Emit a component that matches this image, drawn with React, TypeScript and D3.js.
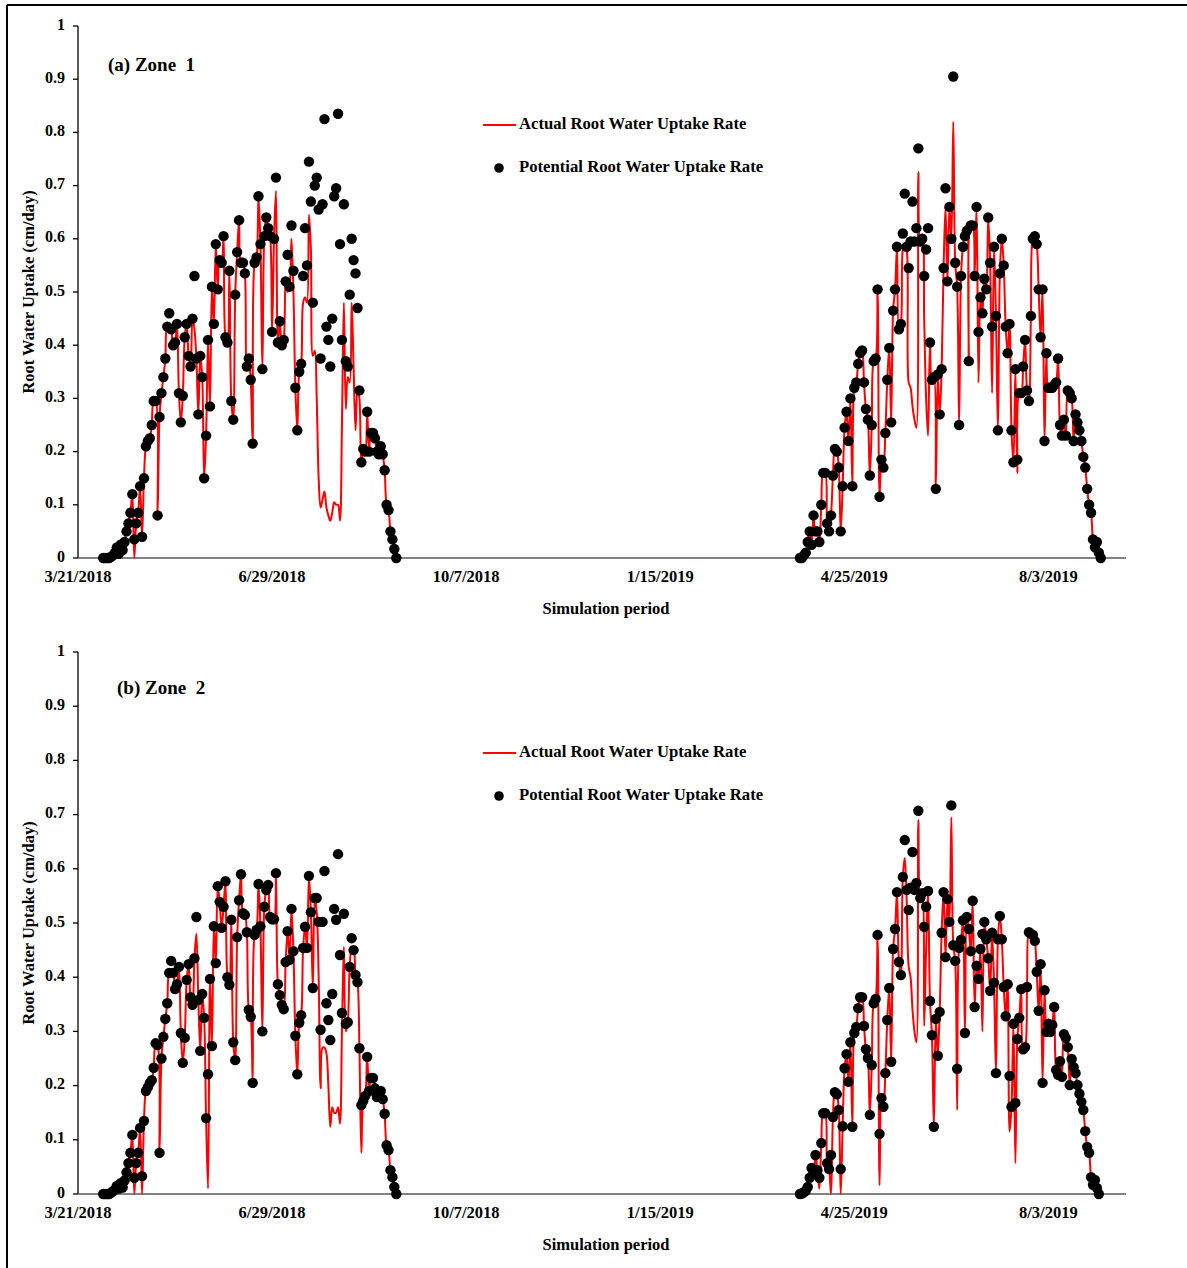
import React from "react";
import * as d3 from "d3";

// ---- axis definitions ----
const xDomain = ["2018-03-21", "2019-09-12"];
const xTickDates = ["2018-03-21", "2018-06-29", "2018-10-07", "2019-01-15", "2019-04-25", "2019-08-03"];
const yTicks = [0, 0.1, 0.2, 0.3, 0.4, 0.5, 0.6, 0.7, 0.8, 0.9, 1];
const seriesNames = ["Actual Root Water Uptake Rate", "Potential Root Water Uptake Rate"];
const panelTitles = ["(a) Zone  1", "(b) Zone  2"];
const xAxisTitle = "Simulation period";
const yAxisTitle = "Root Water Uptake (cm/day)";

// first simulated day of each growing season (daily values follow)
const seasonStart2018 = "2018-04-03";
const seasonStart2019 = "2019-03-28";

// ---- Zone 1, 2018 season (cm/day) ----
const zone1Potential2018 = [
  0, 0, 0, 0, 0.002, 0.005, 0.01, 0.02, 0.008, 0.025, 0.015, 0.03,
  0.05, 0.065, 0.085, 0.12, 0.035, 0.065, 0.085, 0.135, 0.04, 0.15,
  0.21, 0.22, 0.225, 0.25, 0.295, 0.295, 0.08, 0.265, 0.31, 0.34,
  0.375, 0.435, 0.46, 0.43, 0.4, 0.405, 0.44, 0.31, 0.255, 0.305,
  0.415, 0.44, 0.38, 0.36, 0.45, 0.53, 0.375, 0.27, 0.38, 0.34,
  0.15, 0.23, 0.41, 0.285, 0.51, 0.44, 0.59, 0.505, 0.56, 0.555,
  0.605, 0.415, 0.405, 0.54, 0.295, 0.26, 0.495, 0.575, 0.635, 0.555,
  0.555, 0.535, 0.36, 0.375, 0.335, 0.215, 0.555,
  0.565, 0.68, 0.59, 0.355, 0.605, 0.64, 0.62, 0.605, 0.425, 0.6, 0.715,
  0.405, 0.445, 0.4, 0.41, 0.52, 0.57, 0.51, 0.625, 0.54, 0.32,
  0.24, 0.35, 0.365, 0.53, 0.62, 0.55, 0.745, 0.67, 0.48, 0.7,
  0.715, 0.655, 0.375, 0.665, 0.825, 0.435, 0.41, 0.36, 0.45, 0.68,
  0.695, 0.835, 0.59, 0.41, 0.665, 0.37, 0.36, 0.495, 0.6, 0.56,
  0.535, 0.47, 0.315, 0.18, 0.205, 0.2, 0.275, 0.2, 0.235, 0.235, 0.225, 0.2,
  0.195, 0.21, 0.195, 0.165, 0.1, 0.09, 0.05, 0.035, 0.017, 0,
];
const zone1Actual2018 = [
  0, 0, 0, 0, 0.002, 0.005, 0.01, 0.02, 0.008, 0.025, 0.015, 0.03,
  0.05, 0.065, 0.085, 0.12, 0, 0.065, 0.085, 0.135, 0.04, 0.15,
  0.21, 0.22, 0.225, 0.25, 0.295, 0.295, 0.08, 0.265, 0.31, 0.34,
  0.375, 0.435, 0.435, 0.43, 0.4, 0.405, 0.44, 0.31, 0.255, 0.305,
  0.415, 0.44, 0.38, 0.36, 0.45, 0.43, 0.375, 0.27, 0.38, 0.34,
  0.15, 0.23, 0.41, 0.285, 0.51, 0.44, 0.59, 0.505, 0.56, 0.555,
  0.605, 0.415, 0.405, 0.54, 0.295, 0.26, 0.495, 0.575, 0.635, 0.555,
  0.555, 0.535, 0.36, 0.375, 0.335, 0.215, 0.555,
  0.565, 0.68, 0.59, 0.355, 0.605, 0.64, 0.62, 0.605, 0.425, 0.6, 0.69,
  0.405, 0.445, 0.4, 0.41, 0.52, 0.5, 0.51, 0.6, 0.5, 0.32,
  0.24, 0.35, 0.365, 0.48, 0.49, 0.48, 0.645, 0.58, 0.38, 0.39,
  0.3, 0.15, 0.095, 0.11, 0.125, 0.095, 0.08, 0.07, 0.085, 0.105,
  0.1, 0.1, 0.07, 0.25, 0.48, 0.28, 0.34, 0.33, 0.48, 0.36,
  0.24, 0.32, 0.3, 0.18, 0.205, 0.2, 0.275, 0.2, 0.235, 0.235, 0.225, 0.2,
  0.195, 0.21, 0.195, 0.165, 0.1, 0.09, 0.05, 0.035, 0.017, 0,
];

// ---- Zone 1, 2019 season (cm/day) ----
const zone1Potential2019 = [
  0, 0, 0.005, 0.01, 0.03, 0.05, 0.025, 0.08, 0.05, 0.05,
  0.03, 0.1, 0.16, 0.16, 0.065, 0.05, 0.08, 0.155, 0.205, 0.2,
  0.17, 0.05, 0.135, 0.245, 0.275, 0.22, 0.3, 0.135, 0.32, 0.33,
  0.365, 0.385, 0.39, 0.33, 0.28, 0.26, 0.155, 0.25, 0.37, 0.375,
  0.505, 0.115, 0.185, 0.17, 0.235, 0.335, 0.395, 0.255, 0.465, 0.505,
  0.585, 0.43, 0.44, 0.61, 0.685, 0.585, 0.545, 0.595, 0.67, 0.595,
  0.62, 0.77, 0.595, 0.6, 0.53, 0.58, 0.62, 0.405, 0.335, 0.34,
  0.13, 0.345, 0.27, 0.355, 0.545, 0.695, 0.52, 0.66, 0.6, 0.905,
  0.555, 0.51, 0.25, 0.53, 0.585, 0.605, 0.615, 0.37, 0.625, 0.625,
  0.53, 0.66, 0.425, 0.49, 0.46, 0.525, 0.505, 0.64, 0.555, 0.435,
  0.585, 0.455, 0.24, 0.535, 0.6, 0.55, 0.435, 0.385, 0.44, 0.24,
  0.18, 0.355, 0.185, 0.31, 0.31, 0.36, 0.41, 0.315, 0.295, 0.455,
  0.6, 0.605, 0.59, 0.505, 0.415, 0.505, 0.22, 0.385, 0.32, 0.32,
  0.32, 0.325, 0.33, 0.375, 0.25, 0.23, 0.26, 0.23, 0.315, 0.31,
  0.3, 0.22, 0.27, 0.255, 0.24, 0.22, 0.19, 0.17, 0.13, 0.1,
  0.085, 0.035, 0.02, 0.03, 0.01, 0,
];
const zone1Actual2019 = [
  0, 0, 0.005, 0.01, 0.03, 0.05, 0.025, 0.08, 0.05, 0.05,
  0.03, 0.1, 0.16, 0.16, 0.065, 0.05, 0.08, 0.155, 0.205, 0.2,
  0.17, 0.05, 0.135, 0.245, 0.275, 0.22, 0.3, 0.135, 0.32, 0.33,
  0.365, 0.385, 0.39, 0.33, 0.28, 0.26, 0.155, 0.25, 0.37, 0.375,
  0.505, 0.115, 0.185, 0.17, 0.235, 0.335, 0.395, 0.255, 0.465, 0.505,
  0.585, 0.43, 0.44, 0.58, 0.59, 0.58, 0.33, 0.32, 0.285, 0.26,
  0.245, 0.725, 0.595, 0.6, 0.45, 0.3, 0.23, 0.405, 0.335, 0.34,
  0.13, 0.345, 0.27, 0.355, 0.545, 0.66, 0.52, 0.66, 0.6, 0.82,
  0.555, 0.51, 0.25, 0.53, 0.585, 0.605, 0.615, 0.37, 0.625, 0.625,
  0.53, 0.66, 0.33, 0.49, 0.46, 0.525, 0.505, 0.64, 0.555, 0.31,
  0.585, 0.455, 0.24, 0.535, 0.6, 0.55, 0.435, 0.385, 0.44, 0.24,
  0.18, 0.355, 0.16, 0.31, 0.31, 0.36, 0.41, 0.315, 0.295, 0.455,
  0.6, 0.605, 0.59, 0.505, 0.415, 0.505, 0.22, 0.385, 0.32, 0.32,
  0.32, 0.325, 0.33, 0.375, 0.25, 0.23, 0.26, 0.23, 0.315, 0.31,
  0.3, 0.22, 0.27, 0.255, 0.24, 0.22, 0.19, 0.17, 0.13, 0.1,
  0.085, 0.035, 0.02, 0.03, 0.01, 0,
];

// ---- Zone 2, 2018 season (cm/day) ----
const zone2Potential2018 = [
  0, 0, 0, 0, 0.002, 0.005, 0.008, 0.015, 0.01, 0.02, 0.012, 0.025,
  0.04, 0.057, 0.076, 0.109, 0.03, 0.057, 0.076, 0.122, 0.033, 0.135,
  0.19, 0.197, 0.205, 0.21, 0.233, 0.278, 0.275, 0.076, 0.25, 0.29,
  0.323, 0.352, 0.408, 0.43, 0.408, 0.378, 0.387, 0.419, 0.297, 0.242,
  0.288, 0.395, 0.424, 0.363, 0.349, 0.435, 0.511, 0.358, 0.264, 0.369,
  0.325, 0.14, 0.221, 0.397, 0.273, 0.494, 0.426, 0.568, 0.539, 0.491,
  0.53, 0.577, 0.4, 0.386, 0.506, 0.28, 0.247, 0.474, 0.542, 0.59,
  0.518, 0.515, 0.483, 0.34, 0.327, 0.205, 0.478,
  0.487, 0.572, 0.494, 0.3, 0.53, 0.561, 0.57, 0.511, 0.507, 0.507, 0.592,
  0.387, 0.367, 0.349, 0.341, 0.428, 0.485, 0.432, 0.526, 0.448, 0.292,
  0.221, 0.316, 0.33, 0.454, 0.493, 0.454, 0.587, 0.52, 0.38, 0.546,
  0.546, 0.502, 0.303, 0.502, 0.596, 0.352, 0.321, 0.284, 0.369, 0.526,
  0.506, 0.627, 0.441, 0.334, 0.517, 0.314, 0.317, 0.419, 0.472, 0.45,
  0.404, 0.391, 0.269, 0.164, 0.172, 0.181, 0.253, 0.19, 0.214, 0.214, 0.195, 0.179,
  0.184, 0.19, 0.175, 0.148, 0.09, 0.081, 0.044, 0.031, 0.013, 0,
];
const zone2Actual2018 = [
  0, 0, 0, 0, 0.002, 0.005, 0.008, 0.015, 0.01, 0.02, 0.012, 0.025,
  0.04, 0.057, 0.076, 0.109, 0, 0.057, 0.076, 0.122, 0, 0.135,
  0.19, 0.197, 0.205, 0.21, 0.233, 0.278, 0.275, 0.076, 0.25, 0.29,
  0.323, 0.352, 0.408, 0.41, 0.408, 0.378, 0.387, 0.419, 0.297, 0.242,
  0.288, 0.395, 0.424, 0.363, 0.349, 0.435, 0.48, 0.358, 0.264, 0.369,
  0.325, 0.14, 0.01, 0.397, 0.273, 0.494, 0.426, 0.568, 0.539, 0.491,
  0.53, 0.577, 0.4, 0.386, 0.506, 0.28, 0.247, 0.474, 0.542, 0.59,
  0.518, 0.515, 0.483, 0.34, 0.327, 0.205, 0.478,
  0.487, 0.572, 0.494, 0.3, 0.53, 0.561, 0.57, 0.511, 0.507, 0.507, 0.592,
  0.387, 0.367, 0.349, 0.341, 0.428, 0.485, 0.432, 0.526, 0.448, 0.292,
  0.221, 0.316, 0.33, 0.454, 0.493, 0.454, 0.587, 0.52, 0.38, 0.546,
  0.52, 0.4, 0.195, 0.27, 0.27, 0.26, 0.2, 0.124, 0.16, 0.15,
  0.15, 0.16, 0.13, 0.3, 0.456, 0.3, 0.317, 0.419, 0.45, 0.45,
  0.404, 0.391, 0.269, 0.076, 0.172, 0.181, 0.253, 0.19, 0.214, 0.214, 0.195, 0.179,
  0.184, 0.19, 0.175, 0.148, 0.09, 0.081, 0.044, 0.031, 0.013, 0,
];

// ---- Zone 2, 2019 season (cm/day) ----
const zone2Potential2019 = [
  0, 0.001, 0.003, 0.006, 0.013, 0.03, 0.048, 0.039, 0.072, 0.044, 0.03,
  0.094, 0.149, 0.149, 0.057, 0.046, 0.072, 0.142, 0.188, 0.184, 0.155,
  0.046, 0.125, 0.232, 0.258, 0.207, 0.28, 0.124, 0.297, 0.308, 0.343,
  0.363, 0.363, 0.31, 0.267, 0.251, 0.146, 0.238, 0.352, 0.36, 0.478,
  0.111, 0.177, 0.161, 0.223, 0.321, 0.38, 0.244, 0.452, 0.489, 0.557,
  0.428, 0.404, 0.585, 0.653, 0.561, 0.524, 0.565, 0.631, 0.561, 0.574,
  0.707, 0.546, 0.555, 0.493, 0.53, 0.559, 0.356, 0.293, 0.124, 0.323,
  0.255, 0.336, 0.482, 0.557, 0.437, 0.544, 0.502, 0.717, 0.459, 0.43,
  0.231, 0.454, 0.469, 0.505, 0.297, 0.511, 0.489, 0.448, 0.541, 0.345,
  0.421, 0.397, 0.452, 0.48, 0.502, 0.47, 0.435, 0.375, 0.482, 0.39, 0.223,
  0.47, 0.513, 0.47, 0.382, 0.328, 0.387, 0.218, 0.161, 0.314, 0.168,
  0.286, 0.325, 0.378, 0.267, 0.271, 0.382, 0.483, 0.48, 0.478, 0.467, 0.41,
  0.338, 0.424, 0.205, 0.376, 0.299, 0.314, 0.299, 0.312, 0.345, 0.229,
  0.22, 0.245, 0.216, 0.295, 0.288, 0.271, 0.201, 0.249, 0.234, 0.223,
  0.201, 0.185, 0.17, 0.155, 0.116, 0.087, 0.076, 0.031, 0.017, 0.026, 0.011,
  0,
];
const zone2Actual2019 = [
  0, 0.001, 0.003, 0.006, 0.013, 0.03, 0.048, 0.039, 0.072, 0.044, 0.01,
  0.094, 0.149, 0.149, 0.057, 0.046, 0, 0.142, 0.188, 0.184, 0.155,
  0, 0.125, 0.232, 0.258, 0.207, 0.28, 0.124, 0.297, 0.308, 0.343,
  0.363, 0.363, 0.31, 0.267, 0.251, 0.146, 0.238, 0.352, 0.36, 0.478,
  0.016, 0.177, 0.161, 0.223, 0.321, 0.38, 0.244, 0.452, 0.489, 0.557,
  0.428, 0.404, 0.585, 0.62, 0.54, 0.42, 0.4, 0.34, 0.3, 0.28,
  0.69, 0.546, 0.555, 0.31, 0.45, 0.559, 0.356, 0.293, 0.124, 0.323,
  0.255, 0.336, 0.482, 0.557, 0.437, 0.544, 0.502, 0.695, 0.459, 0.43,
  0.155, 0.454, 0.469, 0.505, 0.297, 0.511, 0.489, 0.448, 0.541, 0.345,
  0.421, 0.397, 0.452, 0.3, 0.502, 0.47, 0.435, 0.375, 0.482, 0.39, 0.223,
  0.47, 0.513, 0.47, 0.382, 0.328, 0.387, 0.115, 0.161, 0.314, 0.057,
  0.286, 0.325, 0.378, 0.267, 0.271, 0.382, 0.483, 0.48, 0.478, 0.467, 0.41,
  0.338, 0.424, 0.205, 0.376, 0.299, 0.314, 0.299, 0.312, 0.345, 0.229,
  0.22, 0.245, 0.216, 0.295, 0.288, 0.271, 0.201, 0.249, 0.234, 0.223,
  0.201, 0.185, 0.17, 0.155, 0.116, 0.087, 0.076, 0.031, 0.017, 0.026, 0.011,
  0,
];

type Pt = { date: Date; value: number };

const parseDay = d3.utcParse("%Y-%m-%d");
const formatTick = d3.utcFormat("%-m/%-d/%Y");

function daily(start: string, values: number[]): Pt[] {
  const s = parseDay(start) as Date;
  return values.map((v, i) => ({ date: d3.utcDay.offset(s, i), value: v }));
}

const FONT = "'Liberation Serif', 'Times New Roman', serif";
const W = 1187;
const H = 1268;
const X_LEFT = 78;
const X_RIGHT = 1126;

const xScale = d3
  .scaleUtc()
  .domain(xDomain.map((d) => parseDay(d) as Date))
  .range([X_LEFT, X_RIGHT]);

type PanelProps = {
  title: string;
  titleX: number;
  titleY: number;
  top: number;
  bottom: number;
  legendY: number;
  actual: Pt[][];
  potential: Pt[][];
};

function Panel({ title, titleX, titleY, top, bottom, legendY, actual, potential }: PanelProps) {
  const y = d3.scaleLinear().domain([0, 1]).range([bottom, top]);
  const line = d3
    .line<Pt>()
    .x((d) => xScale(d.date))
    .y((d) => y(d.value))
    .curve(d3.curveCatmullRom.alpha(0.5));
  const midY = (top + bottom) / 2;
  return (
    <g>
      {/* y axis */}
      <line x1={X_LEFT} x2={X_LEFT} y1={top} y2={bottom} stroke="#000" strokeWidth={1.3} />
      {yTicks.map((t) => (
        <g key={t}>
          <line x1={X_LEFT - 5} x2={X_LEFT} y1={y(t)} y2={y(t)} stroke="#000" strokeWidth={1.3} />
          <text
            x={X_LEFT - 13}
            y={y(t)}
            textAnchor="end"
            dominantBaseline="middle"
            fontFamily={FONT}
            fontWeight="bold"
            fontSize={16}
          >
            {String(+t.toFixed(1))}
          </text>
        </g>
      ))}
      <text
        transform={`translate(30,${midY}) rotate(-90)`}
        textAnchor="middle"
        dominantBaseline="middle"
        fontFamily={FONT}
        fontWeight="bold"
        fontSize={16.5}
      >
        {yAxisTitle}
      </text>

      {/* x axis */}
      <line x1={X_LEFT} x2={X_RIGHT} y1={bottom} y2={bottom} stroke="#595959" strokeWidth={1.5} />
      {xTickDates.map((d) => {
        const dt = parseDay(d) as Date;
        return (
          <text
            key={d}
            x={xScale(dt)}
            y={bottom + 20}
            textAnchor="middle"
            dominantBaseline="middle"
            fontFamily={FONT}
            fontWeight="bold"
            fontSize={16.5}
          >
            {formatTick(dt)}
          </text>
        );
      })}
      <text
        x={(X_LEFT + X_RIGHT) / 2 + 4}
        y={bottom + 52}
        textAnchor="middle"
        dominantBaseline="middle"
        fontFamily={FONT}
        fontWeight="bold"
        fontSize={16.5}
      >
        {xAxisTitle}
      </text>

      {/* series */}
      {actual.map((s, i) => (
        <path key={`a${i}`} d={line(s) || ""} fill="none" stroke="#ff0000" strokeWidth={2} />
      ))}
      {potential.map((s, i) => (
        <g key={`p${i}`}>
          {s.map((d, j) => (
            <circle key={j} cx={xScale(d.date)} cy={y(d.value)} r={5.2} fill="#000" />
          ))}
        </g>
      ))}

      {/* title */}
      <text
        x={titleX}
        y={titleY}
        fontFamily={FONT}
        fontWeight="bold"
        fontSize={19}
        dominantBaseline="middle"
        style={{ whiteSpace: "pre" }}
      >
        {title}
      </text>

      {/* legend */}
      <line x1={483} x2={516} y1={legendY} y2={legendY} stroke="#ff0000" strokeWidth={2} />
      <text x={519} y={legendY} dominantBaseline="middle" fontFamily={FONT} fontWeight="bold" fontSize={16.7}>
        {seriesNames[0]}
      </text>
      <circle cx={499} cy={legendY + 43} r={4.8} fill="#000" />
      <text x={519} y={legendY + 43} dominantBaseline="middle" fontFamily={FONT} fontWeight="bold" fontSize={16.7}>
        {seriesNames[1]}
      </text>
    </g>
  );
}

export default function App() {
  const zone1Actual = [daily(seasonStart2018, zone1Actual2018), daily(seasonStart2019, zone1Actual2019)];
  const zone1Potential = [daily(seasonStart2018, zone1Potential2018), daily(seasonStart2019, zone1Potential2019)];
  const zone2Actual = [daily(seasonStart2018, zone2Actual2018), daily(seasonStart2019, zone2Actual2019)];
  const zone2Potential = [daily(seasonStart2018, zone2Potential2018), daily(seasonStart2019, zone2Potential2019)];
  return (
    <svg
      width={W}
      height={H}
      viewBox={`0 0 ${W} ${H}`}
      style={{ position: "absolute", left: 0, top: 0, background: "#fff" }}
    >
      <rect x={0} y={0} width={W} height={H} fill="#fff" />
      {/* figure frame */}
      <line x1={7} x2={W} y1={5} y2={5} stroke="#000" strokeWidth={2} />
      <line x1={7} x2={7} y1={5} y2={H} stroke="#000" strokeWidth={2} />
      <Panel
        title={panelTitles[0]}
        titleX={108}
        titleY={67}
        top={26}
        bottom={558}
        legendY={125}
        actual={zone1Actual}
        potential={zone1Potential}
      />
      <Panel
        title={panelTitles[1]}
        titleX={117}
        titleY={690}
        top={652}
        bottom={1194}
        legendY={753}
        actual={zone2Actual}
        potential={zone2Potential}
      />
    </svg>
  );
}
